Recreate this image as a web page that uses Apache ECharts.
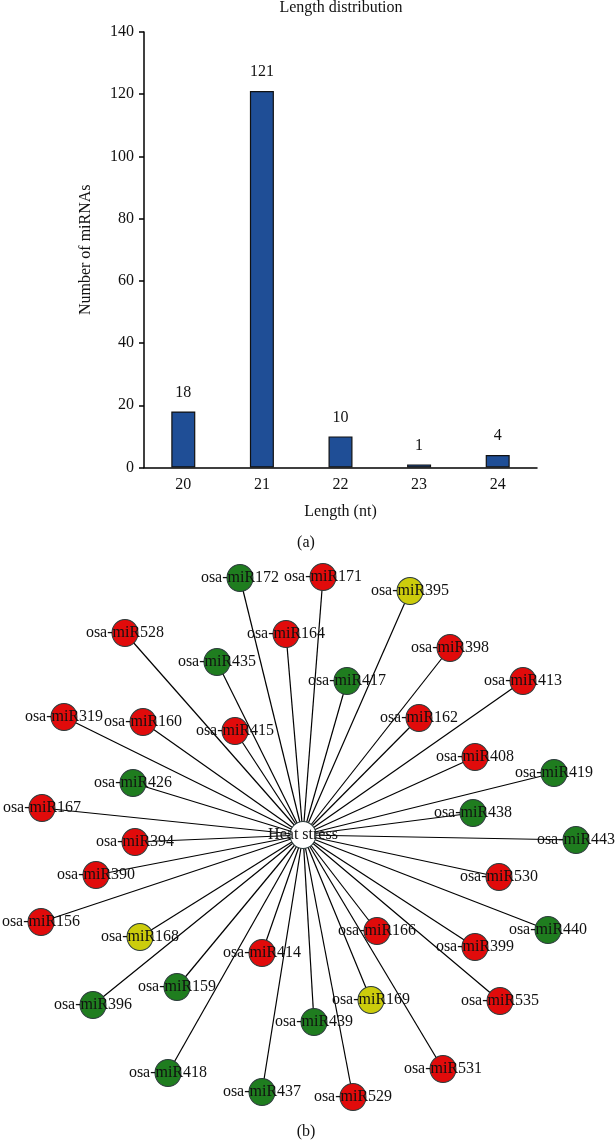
<!DOCTYPE html>
<html>
<head>
<meta charset="utf-8">
<script src="https://cdn.jsdelivr.net/npm/echarts@6/dist/echarts.min.js"></script>
<style>
html,body{margin:0;padding:0;background:#fff;}
#c{width:615px;height:1141px;}
</style>
</head>
<body>
<div id="c"></div>
<script>
// ---- Panel (a) data ----
const lengths = ['20', '21', '22', '23', '24'];
const counts = [18, 121, 10, 1, 4];
const yTicks = [0, 20, 40, 60, 80, 100, 120, 140];

// ---- Panel (b) data: network nodes (position) ----
const hubName = 'Heat stress';
const hubPos = [303, 835];
const nodeNames = ['osa-miR172','osa-miR171','osa-miR395','osa-miR528','osa-miR164','osa-miR435','osa-miR398','osa-miR417','osa-miR413','osa-miR319','osa-miR160','osa-miR415','osa-miR162','osa-miR408','osa-miR419','osa-miR426','osa-miR167','osa-miR438','osa-miR443','osa-miR394','osa-miR390','osa-miR530','osa-miR156','osa-miR440','osa-miR166','osa-miR168','osa-miR399','osa-miR414','osa-miR159','osa-miR535','osa-miR169','osa-miR396','osa-miR439','osa-miR418','osa-miR531','osa-miR437','osa-miR529'];
const nodeX = [240, 323, 410, 125, 286, 217, 450, 347, 523, 64, 143, 235, 419, 475, 554, 133, 42, 473, 576, 135, 96, 499, 41, 548, 377, 140, 475, 262, 177, 500, 371, 93, 314, 168, 443, 262, 353];
const nodeY = [578, 577, 591, 633, 634, 662, 648, 681, 681, 717, 722, 731, 718, 757, 773, 783, 808, 813, 840, 842, 875, 877, 922, 930, 931, 937, 947, 953, 987, 1001, 1000, 1005, 1022, 1073, 1069, 1092, 1097];
// r = red, g = green, y = yellow
const nodeGroup = ['g','r','y','r','r','g','r','g','r','r','r','r','r','r','g','g','r','g','g','r','r','r','r','g','r','y','r','r','g','r','y','g','g','g','r','g','r'];

const groupColor = { r: '#e10b0b', g: '#1f7d1f', y: '#cccc0c' };
const serif = '"Liberation Serif", "DejaVu Serif", serif';

const nodes = [{
  name: hubName, value: hubPos,
  itemStyle: { color: '#ffffff', borderColor: '#2b3b3b', borderWidth: 1 }
}];
const links = [];
nodeNames.forEach((n, i) => {
  nodes.push({
    name: n, value: [nodeX[i], nodeY[i]],
    itemStyle: { color: groupColor[nodeGroup[i]], borderColor: '#2b3b3b', borderWidth: 1 }
  });
  links.push({ source: hubName, target: n });
});

const chart = echarts.init(document.getElementById('c'), null, { renderer: 'canvas' });
chart.setOption({
  backgroundColor: '#ffffff',
  animation: false,
  textStyle: { fontFamily: serif },
  grid: [
    { left: 144, top: 32, width: 393, height: 435.5 },
    { left: 0, top: 0, width: 615, height: 1141 }
  ],
  xAxis: [
    {
      type: 'category', gridIndex: 0, data: lengths,
      name: 'Length (nt)', nameLocation: 'middle', nameGap: 36,
      nameTextStyle: { fontFamily: serif, fontSize: 16, color: '#111' },
      axisLine: { lineStyle: { color: '#000', width: 1.5 } },
      axisTick: { show: false },
      axisLabel: { fontFamily: serif, fontSize: 16, color: '#111', margin: 9 },
      splitLine: { show: false }
    },
    { type: 'value', gridIndex: 1, min: 0, max: 615, show: false }
  ],
  yAxis: [
    {
      type: 'value', gridIndex: 0, min: 0, max: 140, interval: 20,
      name: 'Number of miRNAs', nameLocation: 'middle', nameGap: 50,
      nameTextStyle: { fontFamily: serif, fontSize: 16, color: '#111' },
      axisLine: { show: true, lineStyle: { color: '#000', width: 1.5 } },
      axisTick: { show: true, length: 5, lineStyle: { color: '#000', width: 1.5 } },
      axisLabel: { fontFamily: serif, fontSize: 16, color: '#111', margin: 10,
        formatter: v => yTicks.includes(v) ? String(v) : '' },
      splitLine: { show: false }
    },
    { type: 'value', gridIndex: 1, min: 0, max: 1141, inverse: true, show: false }
  ],
  series: [
    {
      type: 'bar', xAxisIndex: 0, yAxisIndex: 0, data: counts, barWidth: 24,
      itemStyle: { color: '#1f4e96', borderColor: '#111', borderWidth: 1.2 },
      label: { show: true, position: 'top', distance: 11, fontFamily: serif, fontSize: 16, color: '#111' }
    },
    {
      type: 'graph', coordinateSystem: 'cartesian2d', xAxisIndex: 1, yAxisIndex: 1,
      symbol: 'circle', symbolSize: [26, 27],
      data: nodes, links: links,
      lineStyle: { color: '#000', width: 1.2, opacity: 1, curveness: 0 },
      label: { show: true, position: 'inside', fontFamily: serif, fontSize: 16, color: '#111' },
      emphasis: { disabled: true },
      z: 2
    }
  ],
  graphic: [
    { type: 'text', x: 341, y: 8, style: { text: 'Length distribution', font: '16px ' + serif, fill: '#111', textAlign: 'center', textVerticalAlign: 'middle' } },
    { type: 'text', x: 306, y: 543, style: { text: '(a)', font: '16px ' + serif, fill: '#111', textAlign: 'center', textVerticalAlign: 'middle' } },
    { type: 'text', x: 306, y: 1132, style: { text: '(b)', font: '16px ' + serif, fill: '#111', textAlign: 'center', textVerticalAlign: 'middle' } }
  ]
});
</script>
</body>
</html>
